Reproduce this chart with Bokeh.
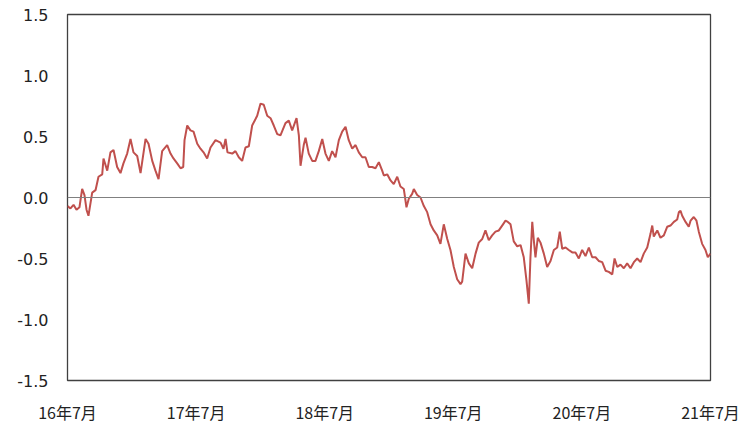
from bokeh.plotting import figure
from bokeh.models import Range1d, FixedTicker, Span, NumeralTickFormatter
from bokeh.embed import file_html
from bokeh.resources import INLINE

# time in fractional years (2016.5 = July 2016)
t = [2016.500, 2016.523, 2016.547, 2016.570, 2016.593, 2016.614, 2016.632, 2016.648, 2016.663, 2016.692,
     2016.718, 2016.741, 2016.770, 2016.780, 2016.809, 2016.834, 2016.858, 2016.886, 2016.912, 2016.935,
     2016.964, 2016.990, 2017.013, 2017.042, 2017.068, 2017.107, 2017.130, 2017.159, 2017.184, 2017.208,
     2017.236, 2017.275, 2017.301, 2017.324, 2017.353, 2017.379, 2017.400, 2017.410, 2017.431, 2017.456,
     2017.480, 2017.509, 2017.534, 2017.558, 2017.586, 2017.612, 2017.651, 2017.690, 2017.713, 2017.729,
     2017.744, 2017.781, 2017.806, 2017.832, 2017.858, 2017.884, 2017.910, 2017.936, 2017.975, 2018.001,
     2018.026, 2018.053, 2018.079, 2018.104, 2018.131, 2018.156, 2018.195, 2018.221, 2018.247, 2018.281,
     2018.299, 2018.312, 2018.337, 2018.351, 2018.376, 2018.403, 2018.428, 2018.454, 2018.481, 2018.506,
     2018.532, 2018.558, 2018.584, 2018.610, 2018.636, 2018.662, 2018.687, 2018.714, 2018.740, 2018.765,
     2018.792, 2018.817, 2018.843, 2018.869, 2018.895, 2018.921, 2018.947, 2018.960, 2018.986, 2019.012,
     2019.037, 2019.064, 2019.089, 2019.115, 2019.136, 2019.154, 2019.180, 2019.193, 2019.219, 2019.245,
     2019.271, 2019.297, 2019.323, 2019.348, 2019.375, 2019.400, 2019.426, 2019.453, 2019.478, 2019.504,
     2019.530, 2019.556, 2019.569, 2019.595, 2019.621, 2019.647, 2019.673, 2019.698, 2019.725, 2019.750,
     2019.776, 2019.802, 2019.828, 2019.854, 2019.880, 2019.906, 2019.924, 2019.945, 2019.970, 2019.997,
     2020.023, 2020.048, 2020.069, 2020.087, 2020.100, 2020.114, 2020.126, 2020.139, 2020.157, 2020.178,
     2020.204, 2020.230, 2020.256, 2020.282, 2020.308, 2020.328, 2020.347, 2020.373, 2020.398, 2020.425,
     2020.450, 2020.476, 2020.502, 2020.528, 2020.554, 2020.580, 2020.606, 2020.631, 2020.658, 2020.684,
     2020.709, 2020.736, 2020.754, 2020.775, 2020.800, 2020.826, 2020.852, 2020.878, 2020.904, 2020.930,
     2020.956, 2020.981, 2021.008, 2021.033, 2021.047, 2021.059, 2021.086, 2021.111, 2021.137, 2021.163,
     2021.189, 2021.215, 2021.241, 2021.254, 2021.267, 2021.280, 2021.306, 2021.331, 2021.345, 2021.370,
     2021.391, 2021.409, 2021.435, 2021.461, 2021.479, 2021.500]

# German 10-year government bond yield (%)
yld = [-0.07, -0.09, -0.06, -0.10, -0.08, 0.07, 0.02, -0.10, -0.15, 0.04,
       0.06, 0.17, 0.19, 0.32, 0.22, 0.37, 0.39, 0.25, 0.20, 0.28,
       0.36, 0.48, 0.37, 0.34, 0.20, 0.48, 0.44, 0.30, 0.22, 0.15,
       0.38, 0.43, 0.36, 0.32, 0.28, 0.24, 0.25, 0.47, 0.59, 0.55,
       0.54, 0.44, 0.40, 0.37, 0.32, 0.41, 0.47, 0.45, 0.40, 0.48,
       0.37, 0.36, 0.38, 0.33, 0.30, 0.41, 0.42, 0.59, 0.67, 0.77,
       0.76, 0.67, 0.65, 0.59, 0.52, 0.51, 0.61, 0.63, 0.55, 0.65,
       0.51, 0.26, 0.43, 0.49, 0.36, 0.30, 0.30, 0.38, 0.48, 0.36,
       0.30, 0.38, 0.33, 0.47, 0.54, 0.58, 0.47, 0.40, 0.43, 0.37,
       0.33, 0.33, 0.25, 0.25, 0.24, 0.29, 0.22, 0.18, 0.19, 0.14,
       0.11, 0.17, 0.09, 0.07, -0.08, -0.01, 0.03, 0.07, 0.02, 0.00,
       -0.07, -0.12, -0.22, -0.27, -0.31, -0.38, -0.22, -0.34, -0.43, -0.57,
       -0.67, -0.71, -0.69, -0.46, -0.54, -0.58, -0.46, -0.37, -0.34, -0.27,
       -0.35, -0.31, -0.28, -0.27, -0.23, -0.19, -0.20, -0.22, -0.36, -0.40,
       -0.39, -0.49, -0.68, -0.87, -0.49, -0.20, -0.35, -0.49, -0.33, -0.37,
       -0.46, -0.57, -0.52, -0.43, -0.41, -0.28, -0.42, -0.41, -0.43, -0.45,
       -0.45, -0.50, -0.43, -0.48, -0.41, -0.49, -0.49, -0.52, -0.53, -0.60,
       -0.61, -0.63, -0.50, -0.57, -0.55, -0.58, -0.54, -0.58, -0.53, -0.50,
       -0.53, -0.46, -0.41, -0.30, -0.23, -0.32, -0.27, -0.33, -0.31, -0.24,
       -0.23, -0.20, -0.18, -0.12, -0.11, -0.15, -0.20, -0.24, -0.19, -0.16,
       -0.19, -0.28, -0.38, -0.43, -0.49, -0.46]

x_ticks = [2016.5, 2017.5, 2018.5, 2019.5, 2020.5, 2021.5]
x_tick_labels = ["16年7月", "17年7月", "18年7月", "19年7月", "20年7月", "21年7月"]
y_ticks = [-1.5, -1.0, -0.5, 0.0, 0.5, 1.0, 1.5]

p = figure(width=740, height=420, output_backend="svg", toolbar_location=None,
           x_range=Range1d(2016.5, 2021.5), y_range=Range1d(-1.5, 1.5),
           min_border_left=67, min_border_right=30, min_border_top=14, min_border_bottom=40)
p.frame_width = 643
p.frame_height = 366

p.grid.visible = False
p.outline_line_color = "#404040"
p.outline_line_width = 1.3
p.background_fill_color = "white"
p.border_fill_color = "white"

p.add_layout(Span(location=0, dimension="width", line_color="#808080", line_width=1))

p.line(t, yld, line_color="#C0504D", line_width=2)

p.xaxis.ticker = FixedTicker(ticks=x_ticks)
p.xaxis.major_label_overrides = {k: v for k, v in zip(x_ticks, x_tick_labels)}
p.yaxis.ticker = FixedTicker(ticks=y_ticks)
p.yaxis.formatter = NumeralTickFormatter(format="0.0")

for ax in (p.xaxis[0], p.yaxis[0]):
    ax.axis_line_color = None
    ax.major_tick_line_color = None
    ax.minor_tick_line_color = None
    ax.major_tick_out = 0
    ax.major_tick_in = 0
    ax.major_label_text_color = "#222222"

p.yaxis.major_label_text_font = "DejaVu Sans"
p.yaxis.major_label_text_font_size = "16px"
p.yaxis.major_label_standoff = 19
p.xaxis.major_label_text_font = "Noto Sans CJK JP"
p.xaxis.major_label_text_font_size = "16px"
p.xaxis.major_label_standoff = 19

open("out.html", "w").write(file_html(p, INLINE))
